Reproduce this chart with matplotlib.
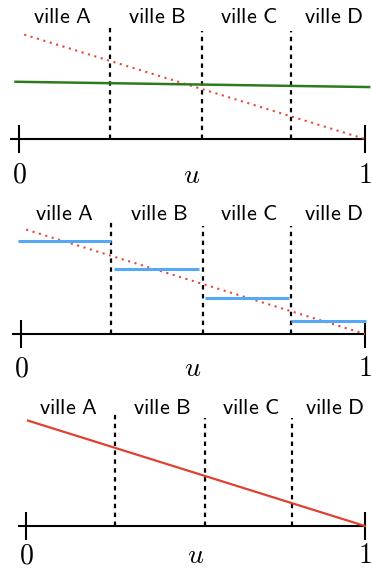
import matplotlib
matplotlib.use("Agg")
import matplotlib.pyplot as plt

plt.rcParams['mathtext.fontset'] = 'cm'

# data (u in [0, 1], heights in units of the red line at u=0)
cities = ['ville A', 'ville B', 'ville C', 'ville D']
city_u = [0.125, 0.40, 0.663, 0.91]
borders = [0.263, 0.529, 0.786]
border_tops = [1.06, 1.02, 1.02]

red_u = [0.015, 1.0]
red_v = [0.985, 0.0]
red3_u = [0.006, 1.0]
red3_v = [0.994, 0.0]

green_u = [-0.01, 1.012]
green_v = [0.54, 0.49]

step_lo = [-0.009, 0.27, 0.535, 0.785]
step_hi = [0.262, 0.517, 0.779, 1.003]
step_v = [0.877, 0.613, 0.340, 0.123]

W, H = 372, 571
K = 106.0  # px per unit

# panel geometry in px: x of u=0, x of u=1, axis y, top, bottom, label y, tick label baseline
panels = [
    (19, 365, 139, 0, 190, 1.15, -0.415),
    (21, 365, 334, 190, 380, 1.13, -0.40),
    (26, 365, 526, 380, 571, 1.11, -0.35),
]

fig = plt.figure(figsize=(W / 100, H / 100), dpi=100)
axes = []
for x0, x1, ay, top, bot, ly, tb in panels:
    ax = fig.add_axes([0, 1 - bot / H, 1, (bot - top) / H])
    ax.set_xlim(-x0 / (x1 - x0), (W - x0) / (x1 - x0))
    ax.set_ylim((ay - bot) / K, (ay - top) / K)
    ax.axis('off')
    # horizontal axis with end ticks
    ax.plot([-0.025, 1.0], [0, 0], color='black', lw=1.5, solid_capstyle='butt')
    for t in [0, 1]:
        ax.plot([t, t], [-0.135, 0.135], color='black', lw=1.5, solid_capstyle='butt')
    for b, bt in zip(borders, border_tops):
        ax.plot([b, b], [0, bt], color='black', lw=1.6, linestyle=(0, (2, 2)))
    for cu, name in zip(city_u, cities):
        ax.text(cu, ly, r'$\mathsf{' + name.replace(' ', r'\ ') + '}$',
                ha='center', va='center', fontsize=16)
    ax.text(0, tb, r'$0$', ha='center', va='baseline', fontsize=20)
    ax.text(0.5, tb, r'$u$', ha='center', va='baseline', fontsize=20)
    ax.text(1, tb, r'$1$', ha='center', va='baseline', fontsize=20)
    axes.append(ax)

ax1, ax2, ax3 = axes
ax1.plot(red_u, red_v, color='#e8453a', lw=1.5, linestyle=(0, (1, 2.2)))
ax1.plot(green_u, green_v, color='#2f7a1f', lw=1.8)

ax2.plot(red_u, red_v, color='#e8453a', lw=1.5, linestyle=(0, (1, 2.2)))
for lo, hi, v in zip(step_lo, step_hi, step_v):
    ax2.plot([lo, hi], [v, v], color='#55a8f5', lw=2.2, solid_capstyle='butt')

ax3.plot(red3_u, red3_v, color='#e0402f', lw=1.6)

fig.savefig('out.png', dpi=100)
